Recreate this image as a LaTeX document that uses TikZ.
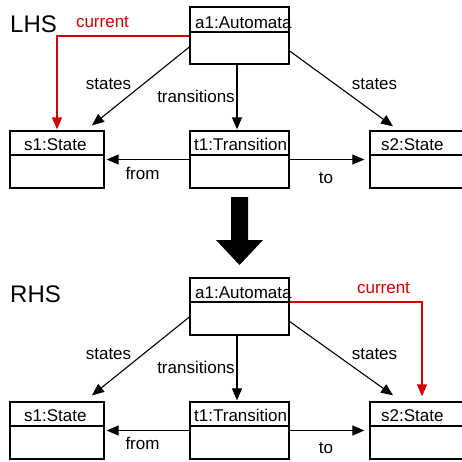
\documentclass[tikz,border=0pt]{standalone}
\usepackage{fontspec}
\setmainfont{Liberation Sans}
\usetikzlibrary{arrows.meta}
\definecolor{curred}{RGB}{210,0,0}
\begin{document}
\begin{tikzpicture}[x=1pt,y=-1pt,
  umlbox/.style={draw,line width=1.3pt,minimum height=57pt,inner sep=0pt},
  wbox/.style={umlbox,minimum width=99pt},
  sbox/.style={umlbox,minimum width=94pt},
  sep/.style={line width=1.1pt},
  txt/.style={font=\fontsize{17}{20}\selectfont,inner sep=0pt,anchor=base west},
  lbl/.style={font=\fontsize{17}{20}\selectfont,inner sep=0pt,anchor=base},
  big/.style={font=\fontsize{24}{28}\selectfont,inner sep=0pt,anchor=base west},
  conn/.style={line width=1.1pt,-{Triangle[length=12pt,width=10pt]}},
  cur/.style={conn,line width=1.4pt,draw=curred}
]
\useasboundingbox (0,0) rectangle (462,461);
\clip (0,0) rectangle (462,461);
\fill[white] (0,0) rectangle (462,461);

% ---------------- LHS ----------------
\node[big] (lhs) at (10,32) {LHS};
\node[wbox] (a1L) at (239.5,35.5) {};
\node[sbox] (s1L) at (57,159.5) {};
\node[wbox] (t1L) at (239.5,159.5) {};
\node[sbox] (s2L) at (417,159.5) {};
\draw[sep] ([yshift=3.5pt]a1L.west) -- ([yshift=3.5pt]a1L.east);
\draw[sep] ([yshift=4.5pt]s1L.west) -- ([yshift=4.5pt]s1L.east);
\draw[sep] ([yshift=4.5pt]t1L.west) -- ([yshift=4.5pt]t1L.east);
\draw[sep] ([yshift=4.5pt]s2L.west) -- ([yshift=4.5pt]s2L.east);
\node[txt] (a1Lt) at (195,28) {a1:Automata};
\node[txt] (s1Lt) at (24,150) {s1:State};
\node[txt] (t1Lt) at (194,150) {t1:Transition};
\node[txt] (s2Lt) at (381,150) {s2:State};

\draw[cur] ([yshift=-0.5pt]a1L.west) -| ([yshift=1pt]s1L.north);
\draw[conn] ([yshift=-11.5pt]a1L.west) -- ([xshift=35pt,yshift=5pt]s1L.north);
\draw[conn] ([xshift=-2.5pt]a1L.south) -- ([xshift=-2.5pt,yshift=1pt]t1L.north);
\draw[conn] ([yshift=-15.5pt]a1L.east) -- ([xshift=-24pt,yshift=4pt]s2L.north);
\draw[conn] (t1L.west) -- ([xshift=2pt]s1L.east);
\draw[conn] (t1L.east) -- ([xshift=-5pt]s2L.west);

\node[lbl,text=curred] (curL) at (102.5,27) {current};
\node[lbl] (stL1) at (108.5,89) {states};
\node[lbl] (trL) at (196,102) {transitions};
\node[lbl] (stL2) at (374.5,89) {states};
\node[lbl] (frL) at (142.5,179) {from};
\node[lbl] (toL) at (326,183) {to};

% ---------------- big arrow ----------------
\fill (231,197) -- (248,197) -- (248,240) -- (263,240) -- (239.5,265) -- (216,240) -- (231,240) -- cycle;

% ---------------- RHS ----------------
\node[big] (rhs) at (10,302) {RHS};
\node[wbox] (a1R) at (239.5,306.5) {};
\node[sbox] (s1R) at (57,430.5) {};
\node[wbox] (t1R) at (239.5,430.5) {};
\node[sbox] (s2R) at (417,430.5) {};
\draw[sep] ([yshift=4.5pt]a1R.west) -- ([yshift=4.5pt]a1R.east);
\draw[sep] ([yshift=4.5pt]s1R.west) -- ([yshift=4.5pt]s1R.east);
\draw[sep] ([yshift=4.5pt]t1R.west) -- ([yshift=4.5pt]t1R.east);
\draw[sep] ([yshift=4.5pt]s2R.west) -- ([yshift=4.5pt]s2R.east);
\node[txt] (a1Rt) at (195,298) {a1:Automata};
\node[txt] (s1Rt) at (24,421) {s1:State};
\node[txt] (t1Rt) at (194,421) {t1:Transition};
\node[txt] (s2Rt) at (381,421) {s2:State};

\draw[cur] ([yshift=4.5pt]a1R.east) -| ([xshift=5pt,yshift=5pt]s2R.north);
\draw[conn] ([yshift=-10.5pt]a1R.west) -- ([xshift=35pt,yshift=6pt]s1R.north);
\draw[conn] ([xshift=-2.5pt]a1R.south) -- ([xshift=-2.5pt,yshift=1pt]t1R.north);
\draw[conn] ([yshift=-15pt]a1R.east) -- ([xshift=-24pt,yshift=6pt]s2R.north);
\draw[conn] (t1R.west) -- ([xshift=2pt]s1R.east);
\draw[conn] (t1R.east) -- ([xshift=-5pt]s2R.west);

\node[lbl,text=curred] (curR) at (383.5,293) {current};
\node[lbl] (stR1) at (108.5,359) {states};
\node[lbl] (trR) at (196,373) {transitions};
\node[lbl] (stR2) at (374.5,359) {states};
\node[lbl] (frR) at (142.5,449) {from};
\node[lbl] (toR) at (326,453) {to};
\end{tikzpicture}
\end{document}
